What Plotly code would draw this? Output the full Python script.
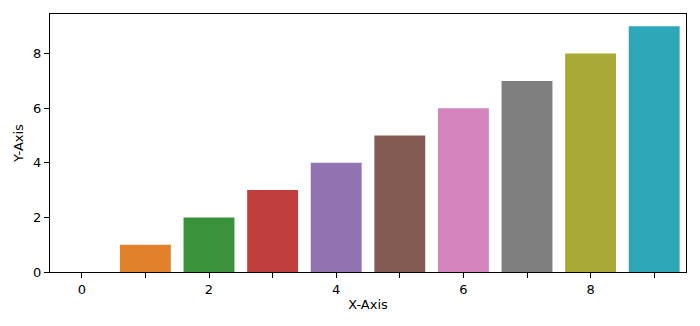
import plotly.graph_objects as go

categories = [0, 1, 2, 3, 4, 5, 6, 7, 8, 9]
values = [0, 1, 2, 3, 4, 5, 6, 7, 8, 9]
colors = ["#3274a1", "#e1812c", "#3a923a", "#c03d3e", "#9372b2",
          "#845b53", "#d684bd", "#7f7f7f", "#a9aa35", "#2ea8b8"]
x_tickvals = [0, 1, 2, 3, 4, 5, 6, 7, 8, 9]
x_ticktext = ["0", "", "2", "", "4", "", "6", "", "8", ""]
y_tickvals = [0, 2, 4, 6, 8]

fig = go.Figure(go.Bar(x=categories, y=values, marker_color=colors,
                       marker_line_width=0, width=0.8))

axis_common = dict(showline=True, linecolor="black", linewidth=1, mirror=True,
                   ticks="outside", ticklen=5, tickwidth=1, tickcolor="black",
                   showgrid=False, zeroline=False,
                   tickfont=dict(family="DejaVu Sans", size=13, color="black"))

fig.update_layout(
    width=700, height=326,
    margin=dict(l=50, r=14, t=14, b=54),
    plot_bgcolor="white", paper_bgcolor="white",
    showlegend=False,
    font=dict(family="DejaVu Sans", size=13, color="black"),
    xaxis=dict(range=[-0.5, 9.5], tickvals=x_tickvals, ticktext=x_ticktext,
               title=dict(text="X-Axis", standoff=4,
                          font=dict(family="DejaVu Sans", size=13)),
               **axis_common),
    yaxis=dict(range=[0, 9.45], tickvals=y_tickvals,
               title=dict(text="Y-Axis", standoff=6,
                          font=dict(family="DejaVu Sans", size=13)),
               **axis_common),
)

fig.write_html("out.html")
